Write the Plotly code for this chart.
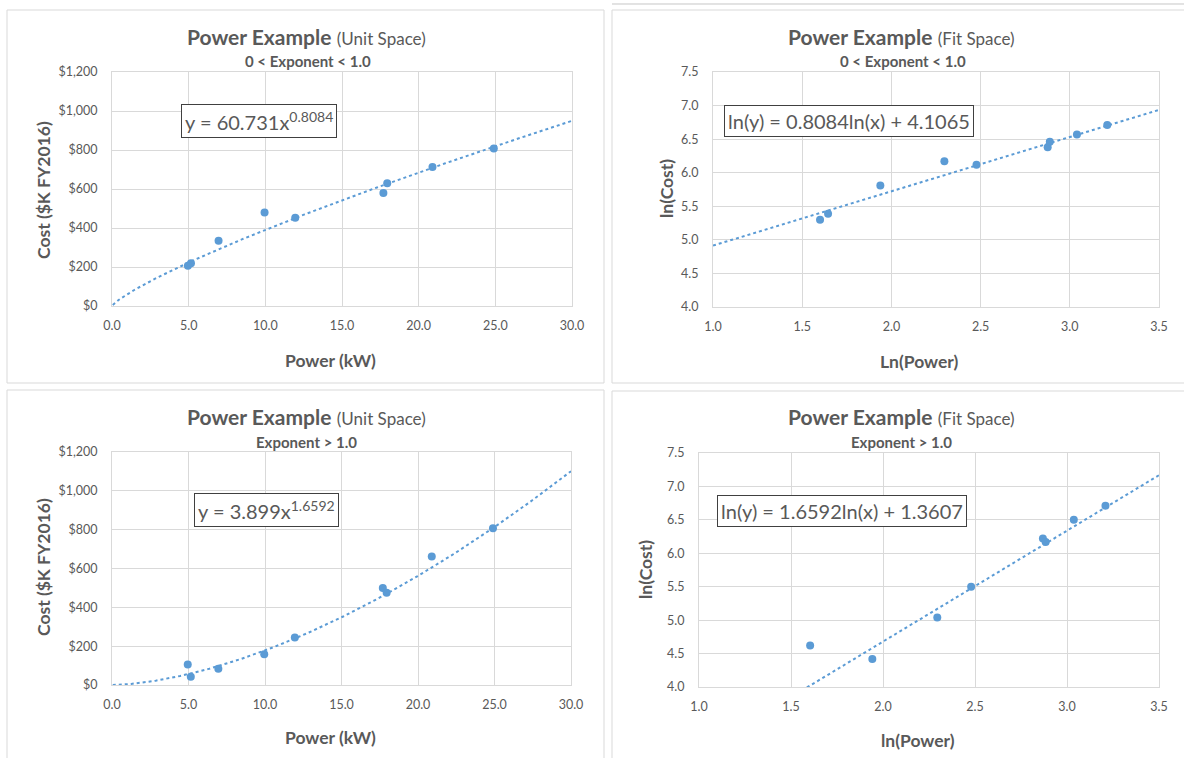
import numpy as np
import plotly.graph_objects as go

W, H = 1184, 758

# ---------------- data ----------------
power = [4.95, 5.15, 6.95, 9.95, 11.95, 17.7, 17.95, 20.9, 24.9]
cost_low = [207, 219, 334, 479, 452, 579, 630, 713, 808]      # 0 < exponent < 1
cost_high = [106, 43, 84, 158, 245, 499, 475, 662, 807]       # exponent > 1

ln_power = [1.60, 1.645, 1.938, 2.297, 2.477, 2.876, 2.888, 3.040, 3.210]
ln_cost_low = [5.30, 5.39, 5.81, 6.17, 6.12, 6.38, 6.46, 6.57, 6.71]
ln_power_high = [1.604, 1.64, 1.942, 2.295, 2.479, 2.869, 2.884, 3.037, 3.209]
ln_cost_high = [4.62, 3.76, 4.42, 5.04, 5.50, 6.22, 6.17, 6.50, 6.71]

# trendline coefficients (from the chart's equations)
a_low, b_low = 60.731, 0.8084
a_high, b_high = 3.899, 1.6592
slope_low, icpt_low = 0.8084, 4.1065
slope_high, icpt_high = 1.6592, 1.3607

x_unit_range = [0, 30]
y_unit_range = [0, 1200]
x_fit_range = [1.0, 3.5]
y_fit_range = [4.0, 7.5]

# ---------------- styles ----------------
BLUE = "#5b9bd5"
GRID = "#d9d9d9"
TXT = "#595959"
FONT = "Lato"


def px(x):
    return x / W


def py(y):
    return 1 - y / H


fig = go.Figure()

# panel domains in pixels: (x0, x1, ytop, ybottom)
panels = {
    "1": (112, 572, 72, 306),
    "2": (713, 1159, 72, 307),
    "3": (112, 571, 452, 685),
    "4": (699, 1159, 453, 687),
}

x_curve = np.linspace(0.05, 30, 300)
x_line = np.linspace(1.0, 3.5, 50)

traces = [
    ("1", power, cost_low, x_curve, a_low * x_curve ** b_low),
    ("2", ln_power, ln_cost_low, x_line, slope_low * x_line + icpt_low),
    ("3", power, cost_high, x_curve, a_high * x_curve ** b_high),
    ("4", ln_power_high, ln_cost_high, x_line, slope_high * x_line + icpt_high),
]

for k, xs, ys, xt, yt in traces:
    xa = "x" if k == "1" else "x" + k
    ya = "y" if k == "1" else "y" + k
    fig.add_trace(go.Scatter(x=xt, y=yt, mode="lines", xaxis=xa, yaxis=ya,
                             line=dict(color=BLUE, width=2, dash="dot"),
                             showlegend=False, hoverinfo="skip"))
    fig.add_trace(go.Scatter(x=xs, y=ys, mode="markers", xaxis=xa, yaxis=ya,
                             marker=dict(color=BLUE, size=8),
                             cliponaxis=True, showlegend=False))

layout = dict(
    width=W, height=H,
    margin=dict(l=0, r=0, t=0, b=0, pad=0, autoexpand=False),
    paper_bgcolor="white", plot_bgcolor="white",
    font=dict(family=FONT, color=TXT),
    showlegend=False,
)

for k, (x0, x1, yt, yb) in panels.items():
    xname = "xaxis" if k == "1" else "xaxis" + k
    yname = "yaxis" if k == "1" else "yaxis" + k
    xa = "x" if k == "1" else "x" + k
    ya = "y" if k == "1" else "y" + k
    unit = k in ("1", "3")
    common = dict(showgrid=True, gridcolor=GRID, gridwidth=1, zeroline=False,
                  showline=True, linecolor=GRID, linewidth=1, mirror=True,
                  automargin=False,
                  ticks="outside", tickcolor="rgba(0,0,0,0)",
                  tickfont=dict(family=FONT, size=12.5, color=TXT))
    layout[xname] = dict(common, domain=[px(x0), px(x1)], anchor=ya,
                         range=x_unit_range if unit else x_fit_range,
                         dtick=5 if unit else 0.5, tickformat=".1f", ticklen=8)
    layout[yname] = dict(common, domain=[py(yb), py(yt)], anchor=xa,
                         range=y_unit_range if unit else y_fit_range,
                         dtick=200 if unit else 0.5, ticklen=11,
                         tickformat="," if unit else ".1f",
                         tickprefix="$" if unit else "")

shapes = []
for (x0, y0, x1, y1) in [(7, 10, 604, 383), (612, 10, 1195, 383),
                         (7, 390, 604, 770), (612, 391, 1195, 770),
                         (612, 4, 1195, 4)]:
    shapes.append(dict(type="rect", xref="paper", yref="paper",
                       x0=px(x0), x1=px(x1), y0=py(y1), y1=py(y0),
                       line=dict(color=GRID, width=1), fillcolor="rgba(0,0,0,0)",
                       layer="below"))
layout["shapes"] = shapes

ann = []


def text(x, y, t, size, angle=0, **kw):
    d = dict(xref="paper", yref="paper", x=px(x), y=py(y), text=t,
             showarrow=False, xanchor="center", yanchor="middle",
             font=dict(family=FONT, size=size, color=TXT), textangle=angle)
    d.update(kw)
    ann.append(d)


sub_low = "<b>0 &lt; Exponent &lt; 1.0</b>"
sub_high = "<b>Exponent &gt; 1.0</b>"
title_u = "<b>Power Example</b> <span style='font-size:17px'>(Unit Space)</span>"
title_f = "<b>Power Example</b> <span style='font-size:17px'>(Fit Space)</span>"

# top-left
text(306, 36, title_u, 21)
text(308, 61, sub_low, 15)
text(330, 360, "<b>Power (kW)</b>", 17.5)
text(43, 190, "<b>Cost ($K FY2016)</b>", 17.5, angle=-90)
# top-right
text(901, 36, title_f, 21)
text(903, 61, sub_low, 15)
text(920, 361, "<b>Ln(Power)</b>", 17.5)
text(666, 189, "<b>ln(Cost)</b>", 17.5, angle=-90)
# bottom-left
text(306, 416, title_u, 21)
text(306, 442, sub_high, 15)
text(330, 737, "<b>Power (kW)</b>", 17.5)
text(43, 567, "<b>Cost ($K FY2016)</b>", 17.5, angle=-90)
# bottom-right
text(901, 416, title_f, 21)
text(901, 442, sub_high, 15)
text(918, 740, "<b>ln(Power)</b>", 17.5)
text(645, 570, "<b>ln(Cost)</b>", 17.5, angle=-90)

box = dict(bordercolor="#404040", borderwidth=1, borderpad=3, bgcolor="white")
text(259, 121, f"y = {a_low}x<sup>{b_low}</sup>", 20, **box)
text(849, 121, f"ln(y) = {slope_low}ln(x) + {icpt_low}", 20, **box)
text(266, 510, f"y = {a_high}x<sup>{b_high}</sup>", 20, **box)
text(842, 511, f"ln(y) = {slope_high}ln(x) + {icpt_high}", 20, **box)

layout["annotations"] = ann
fig.update_layout(**layout)

fix_page = (
    "var gd=document.getElementById('{plot_id}');"
    "var p=gd.parentElement;"
    "[document.documentElement, document.body].forEach(function(e){"
    "e.style.margin='0';e.style.padding='0';e.style.overflow='hidden';});"
    "p.style.position='fixed';p.style.left='0';p.style.top='0';"
)
fig.write_html("out.html", post_script=fix_page,
               config={"displayModeBar": False})
